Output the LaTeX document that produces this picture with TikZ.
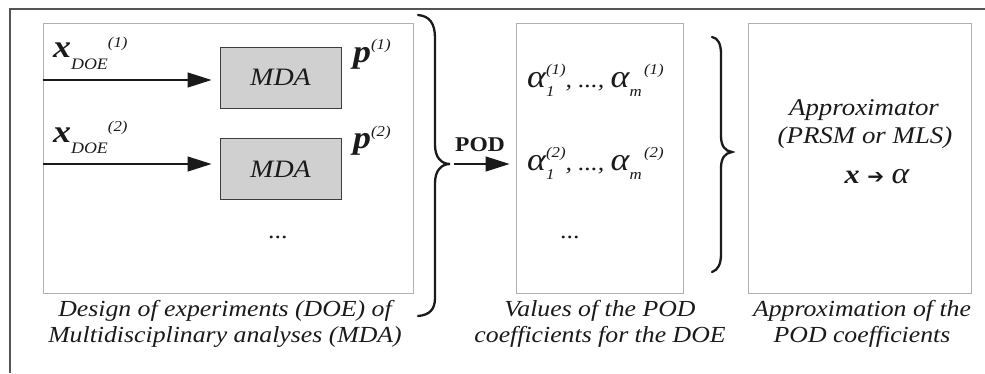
\documentclass[tikz,border=0pt]{standalone}
\usepackage{fontspec}
\setmainfont[FakeStretch=1.12]{Liberation Serif}
\newfontfamily\symfont{DejaVu Sans}
\usetikzlibrary{arrows.meta}
\definecolor{framegray}{HTML}{555555}
\definecolor{boxgray}{HTML}{B0B0B0}
\definecolor{mdafill}{HTML}{D0D0D0}
\definecolor{ink}{HTML}{1A1A1A}
\newcommand\fsz[1]{\fontsize{#1}{#1}\selectfont}
\begin{document}
\begin{tikzpicture}[x=1pt,y=-1pt,
  panel/.style={draw=boxgray,line width=0.9pt,inner sep=0pt},
  mdabox/.style={draw=ink!85,fill=mdafill,line width=1pt,minimum width=121pt,minimum height=61pt,inner sep=0pt,font=\fsz{25}\itshape},
  arr/.style={draw=ink,line width=1.2pt,-{Triangle[length=24pt,width=15pt]}},
  brace/.style={draw=ink,line width=2.3pt,line cap=round},
  lbl/.style={anchor=base west,inner sep=0pt,text=ink},
  captext/.style={anchor=north,inner sep=0pt,align=center,font=\fontsize{23}{26}\selectfont\itshape,text=ink},
  every node/.append style={text=ink}]
\useasboundingbox (0,0) rectangle (985,373);
% outer frame
\draw[framegray,line width=1.5pt] (10,373) -- (10,9) -- (985,9);
% panels
\node[panel,minimum width=370pt,minimum height=270pt] (box1) at (228,158) {};
\node[panel,minimum width=167pt,minimum height=270pt] (box2) at (599.5,158) {};
\node[panel,minimum width=223pt,minimum height=270pt] (box3) at (859.5,158) {};
% MDA boxes
\node[mdabox] (mda1) at (280.5,77.5) {MDA};
\node[mdabox] (mda2) at (280.5,169) {MDA};
% inputs
\coordinate (a1s) at (box1.west |- 0,80);
\coordinate (a2s) at (box1.west |- 0,164);
\draw[arr,shorten >=8pt] (a1s) -- (mda1.west |- a1s);
\draw[arr,shorten >=8pt] (a2s) -- (mda2.west |- a2s);
\node[lbl] (xin1) at (53,57) {\fsz{32}\bfseries\itshape x\mdseries\fsz{16}\raisebox{-12pt}{DOE}\fsz{15}\raisebox{10pt}{(1)}};
\node[lbl] (xin2) at (53,142) {\fsz{32}\bfseries\itshape x\mdseries\fsz{16}\raisebox{-11pt}{DOE}\fsz{15}\raisebox{11pt}{(2)}};
\node[lbl] (p1) at (353,62) {\fsz{32}\bfseries\itshape p\mdseries\fsz{15}\raisebox{13pt}{(1)}};
\node[lbl] (p2) at (353,148) {\fsz{32}\bfseries\itshape p\mdseries\fsz{15}\raisebox{12pt}{(2)}};
\node[lbl] (dots1) at (268,238) {\fsz{23}...};
% brace 1
\coordinate (tip1) at (450,164);
\draw[brace] (418,15) .. controls (430,16) and (435,24) .. (435,38) -- (435,145)
  .. controls (435,157) and (441,164) .. (tip1)
  .. controls (441,164) and (435,171) .. (435,183) -- (435,298)
  .. controls (435,309) and (430,315) .. (418,316);
\node[lbl] (pod) at (455,151) {\fsz{21}\bfseries POD};
\draw[arr,shorten >=6pt,shorten <=4pt] (tip1) -- (box2.west |- tip1);
% alpha rows
\node[lbl] (al1) at (527,87) {\fsz{32}\itshape α\fsz{15}\rlap{\raisebox{-9pt}{1}}\raisebox{13pt}{(1)}\fsz{23}, ..., \fsz{32}α\fsz{15}\raisebox{-9pt}{m}\,\raisebox{13pt}{(1)}};
\node[lbl] (al2) at (527,170) {\fsz{32}\itshape α\fsz{15}\rlap{\raisebox{-9pt}{1}}\raisebox{13pt}{(2)}\fsz{23}, ..., \fsz{32}α\fsz{15}\raisebox{-9pt}{m}\,\raisebox{13pt}{(2)}};
\node[lbl] (dots2) at (560,238) {\fsz{23}...};
% brace 2
\coordinate (tip2) at (732,152);
\draw[brace] (712,37) .. controls (718,38) and (721,44) .. (721,54) -- (721,136)
  .. controls (721,146) and (725,151) .. (tip2)
  .. controls (725,153) and (721,158) .. (721,168) -- (721,254)
  .. controls (721,264) and (718,270) .. (712,272);
% approximator
\node[anchor=base,inner sep=0pt] (ap1) at (864,115) {\fsz{24}\itshape Approximator};
\node[anchor=base,inner sep=0pt] (ap2) at (865,143) {\fsz{24}\itshape (PRSM or MLS)};
\node[anchor=base,inner sep=0pt] (ap3) at (877,183) {\fsz{27}\bfseries\itshape x {\symfont\mdseries\upshape\fsz{20}➔} {\mdseries\fsz{30}α}};
% captions
\node[captext] (c1) at (225,300) {Design of experiments (DOE) of\\Multidisciplinary analyses (MDA)};
\node[captext] (c2) at (600,300) {Values of the POD\\coefficients for the DOE};
\node[captext] (c3) at (862,300) {Approximation of the\\POD coefficients};
\end{tikzpicture}
\end{document}
